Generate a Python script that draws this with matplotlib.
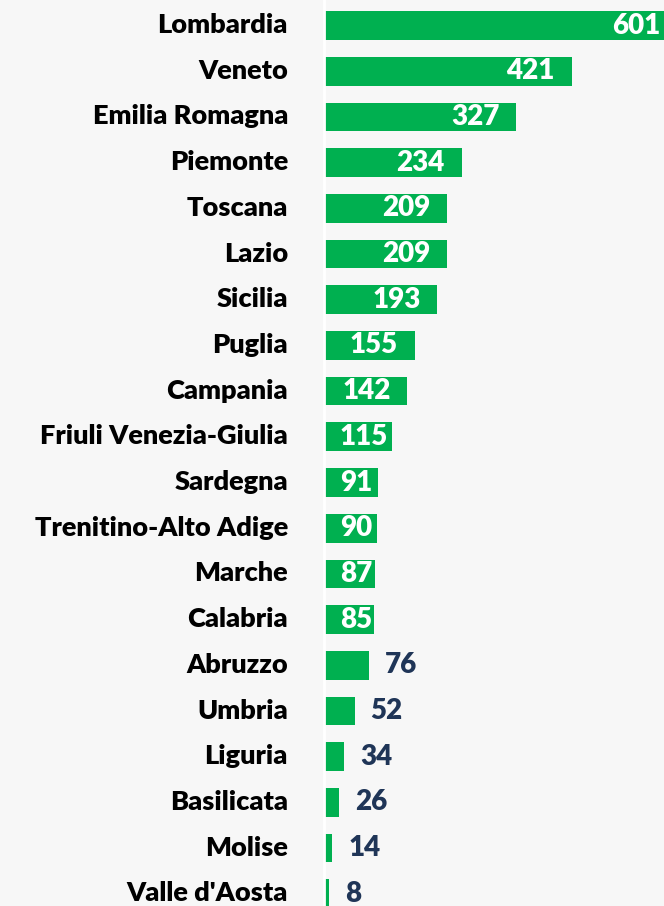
import matplotlib as mpl
import matplotlib.pyplot as plt
import matplotlib.transforms as mtransforms
import numpy as np

# data
regions = ["Lombardia", "Veneto", "Emilia Romagna", "Piemonte", "Toscana", "Lazio",
           "Sicilia", "Puglia", "Campania", "Friuli Venezia-Giulia", "Sardegna",
           "Trenitino-Alto Adige", "Marche", "Calabria", "Abruzzo", "Umbria",
           "Liguria", "Basilicata", "Molise", "Valle d'Aosta"]
values = [601, 421, 327, 234, 209, 209, 193, 155, 142, 115, 91, 90, 87, 85,
          76, 52, 34, 26, 14, 8]

green = "#00B050"
navy = "#1F3557"
bg = "#F7F7F7"

mpl.rcParams["font.family"] = ["Lato", "DejaVu Sans"]

W, H = 664, 906
fig = plt.figure(figsize=(W / 100, H / 100), dpi=100, facecolor=bg)

# axes starts where the bars start; right edge = figure edge
left_px = 324
ax = fig.add_axes([left_px / W, 0, (W - left_px) / W, 1])
ax.set_facecolor(bg)

px_per_unit = 0.588
xmax = (W - left_px) / px_per_unit
ax.set_xlim(0, xmax)

row_px = 45.7
top_px = 25.5
ax.set_ylim((H - top_px) / row_px, -top_px / row_px)

y = np.arange(len(values))
ax.barh(y, values, height=0.63, color=green, zorder=2)

# value labels
pad = 17 / px_per_unit
gap = 16 / px_per_unit
for yi, v in zip(y, values):
    if v >= 80:
        width_units = (16 * len(str(v))) / px_per_unit
        xr = min(v - pad, xmax - 4)
        if xr - width_units < gap:
            ax.text(gap, yi, str(v), ha="left", va="center", color="white",
                    fontsize=20, fontweight="heavy", zorder=3)
        else:
            ax.text(xr, yi, str(v), ha="right", va="center", color="white",
                    fontsize=20, fontweight="heavy", zorder=3)
    else:
        ax.text(v + gap, yi, str(v), ha="left", va="center", color=navy,
                fontsize=20, fontweight="heavy", zorder=3)

ax.set_yticks(y)
ax.set_yticklabels(regions, fontsize=19.5, fontweight="heavy", color="black")
ax.tick_params(axis="y", length=0, pad=26)
ax.set_xticks([])

# nudge category labels up a little, as in the reference
shift = mtransforms.ScaledTranslation(0, 2.5 / 100, fig.dpi_scale_trans)
for lab in ax.get_yticklabels():
    lab.set_transform(lab.get_transform() + shift)

for s in ["top", "right", "bottom"]:
    ax.spines[s].set_visible(False)
ax.spines["left"].set_color("white")
ax.spines["left"].set_linewidth(2)

fig.savefig("out.png", dpi=100, facecolor=bg)
